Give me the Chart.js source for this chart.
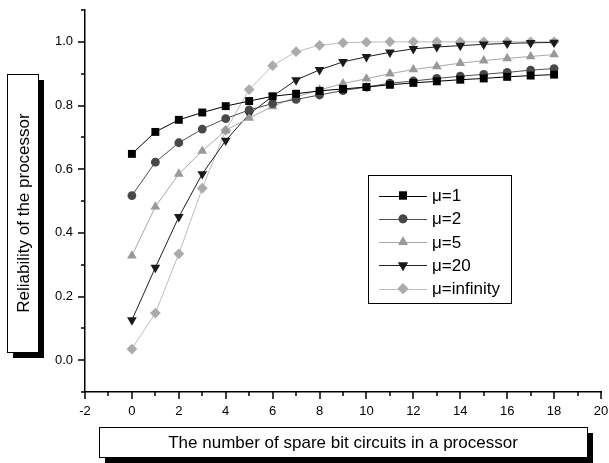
<!DOCTYPE html>
<html lang="en">

<head>
    <meta charset="UTF-8" />
    <title>Reliability of the processor</title>
    <style>
        * {
            margin: 0;
            padding: 0;
        }

        body {
            background: #ffffff;
        }

        .chartBox {
            width: 609px;
            height: 463px;
        }
    </style>
</head>

<body>
    <div class="chartBox">
        <canvas id="myChart"></canvas>
    </div>
    <script src="https://cdn.jsdelivr.net/npm/chart.js@4.4.1/dist/chart.umd.min.js"></script>
    <script>
        const FONT = "'Liberation Sans', Arial, Helvetica, sans-serif";

        // spare bit circuits
        const spares = [0, 1, 2, 3, 4, 5, 6, 7, 8, 9, 10, 11, 12, 13, 14, 15, 16, 17, 18];

        const seriesNames = ["μ=1", "μ=2", "μ=5", "μ=20", "μ=infinity"];

        const mu1 = [0.648, 0.717, 0.755, 0.778, 0.798, 0.814, 0.829, 0.837, 0.846, 0.852,
            0.858, 0.865, 0.871, 0.876, 0.881, 0.885, 0.890, 0.894, 0.897];
        const mu2 = [0.517, 0.622, 0.683, 0.726, 0.759, 0.786, 0.806, 0.819, 0.833, 0.847,
            0.858, 0.870, 0.877, 0.885, 0.892, 0.898, 0.904, 0.911, 0.916];
        const mu5 = [0.328, 0.482, 0.585, 0.657, 0.722, 0.761, 0.797, 0.827, 0.849, 0.869,
            0.884, 0.900, 0.913, 0.923, 0.933, 0.941, 0.948, 0.954, 0.960];
        const mu20 = [0.126, 0.291, 0.450, 0.585, 0.690, 0.773, 0.829, 0.880, 0.912, 0.937,
            0.953, 0.967, 0.978, 0.984, 0.988, 0.992, 0.995, 0.997, 0.998];
        const muInf = [0.035, 0.148, 0.334, 0.540, 0.722, 0.850, 0.925, 0.969, 0.989, 0.997,
            0.999, 1.0, 1.0, 1.0, 1.0, 1.0, 1.0, 1.0, 1.0];

        const xMin = -2, xMax = 20;
        const yMin = -0.1, yMax = 1.1;

        const xTitle = "The number of spare bit circuits in a processor";
        const yTitle = "Reliability of the processor";

        function pts(values) {
            return values.map((v, i) => ({ x: spares[i], y: v }));
        }

        const styles = [
            { line: "#000000", fill: "#000000", shape: "rect", rot: 0, r: 5.6 },
            { line: "#505050", fill: "#484848", shape: "circle", rot: 0, r: 4.4 },
            { line: "#a8a8a8", fill: "#999999", shape: "triangle", rot: 0, r: 5.6 },
            { line: "#1e1e1e", fill: "#1a1a1a", shape: "triangle", rot: 180, r: 5.6 },
            { line: "#bdbdbd", fill: "#ababab", shape: "rectRot", rot: 0, r: 5.4 },
        ];

        const allValues = [mu1, mu2, mu5, mu20, muInf];

        const datasets = allValues.map((vals, i) => ({
            label: seriesNames[i],
            data: pts(vals),
            borderColor: styles[i].line,
            backgroundColor: styles[i].fill,
            borderWidth: 1,
            pointStyle: styles[i].shape,
            pointRotation: styles[i].rot,
            pointRadius: styles[i].r,
            pointBorderWidth: 0,
            pointBackgroundColor: styles[i].fill,
            fill: false,
            tension: 0,
        }));

        function shadowBox(ctx, x, y, w, h) {
            ctx.fillStyle = "#000";
            ctx.fillRect(x + 6, y + 6, w, h);
            ctx.fillStyle = "#fff";
            ctx.fillRect(x, y, w, h);
            ctx.strokeStyle = "#000";
            ctx.lineWidth = 1;
            ctx.strokeRect(x + 0.5, y + 0.5, w, h);
        }

        // tick marks (long on labelled values), titles and legend drawn by hand
        const decorations = {
            id: "decorations",
            afterDraw(chart) {
                const ctx = chart.ctx;
                const xs = chart.scales.x;
                const ys = chart.scales.y;
                const bottom = Math.round(chart.chartArea.bottom);
                const left = Math.round(chart.chartArea.left);
                ctx.save();

                ctx.fillStyle = "#000000";
                for (let v = xMin; v <= xMax; v++) {
                    const px = Math.round(xs.getPixelForValue(v));
                    const len = v % 2 === 0 ? 7 : 4;
                    ctx.fillRect(px - 0.75, bottom, 1.5, len);
                }
                for (let k = -1; k <= 11; k++) {
                    const py = Math.round(ys.getPixelForValue(k / 10));
                    const len = k % 2 === 0 ? 7 : 4;
                    ctx.fillRect(left - len, py - 0.75, len, 1.5);
                }

                // axis title boxes
                ctx.font = "17px " + FONT;
                ctx.textAlign = "center";
                ctx.textBaseline = "middle";

                shadowBox(ctx, 7, 74, 31, 278);
                ctx.fillStyle = "#000";
                ctx.save();
                ctx.translate(23, 213);
                ctx.rotate(-Math.PI / 2);
                ctx.fillText(yTitle, 0, 1);
                ctx.restore();

                shadowBox(ctx, 99, 427, 488, 30);
                ctx.fillStyle = "#000";
                ctx.fillText(xTitle, 343, 443);

                // legend
                const lx = Math.round(xs.getPixelForValue(10.08));
                const ly = Math.round(ys.getPixelForValue(0.583));
                ctx.fillStyle = "#fff";
                ctx.fillRect(lx, ly, 143, 128);
                ctx.strokeStyle = "#000";
                ctx.strokeRect(lx + 0.5, ly + 0.5, 143, 128);
                ctx.font = "17px " + FONT;
                ctx.textAlign = "left";
                chart.data.datasets.forEach((ds, i) => {
                    const cy = ly + 20.5 + i * 23.3;
                    ctx.strokeStyle = ds.borderColor;
                    ctx.beginPath();
                    ctx.moveTo(lx + 11, Math.round(cy) + 0.5);
                    ctx.lineTo(lx + 59, Math.round(cy) + 0.5);
                    ctx.stroke();
                    ctx.fillStyle = ds.pointBackgroundColor;
                    Chart.helpers.drawPoint(ctx, {
                        pointStyle: ds.pointStyle,
                        rotation: ds.pointRotation,
                        radius: ds.pointRadius,
                        borderWidth: 0,
                    }, lx + 35, cy);
                    ctx.fill();
                    ctx.fillStyle = "#000";
                    ctx.fillText(ds.label, lx + 64, cy + 1);
                });

                ctx.restore();
            },
        };

        const options = {
            responsive: true,
            maintainAspectRatio: false,
            animation: false,
            layout: {
                padding: { top: 10, right: 8, left: 0, bottom: 0 },
            },
            scales: {
                x: {
                    type: "linear",
                    min: xMin,
                    max: xMax,
                    grid: { display: false, drawTicks: false },
                    border: { display: true, color: "#000", width: 1.5 },
                    ticks: {
                        stepSize: 1,
                        autoSkip: false,
                        maxRotation: 0,
                        padding: 12,
                        color: "#000",
                        font: { family: FONT, size: 13 },
                        callback: v => (Math.round(v) % 2 === 0 ? String(Math.round(v)) : ""),
                    },
                    afterFit: s => {
                        s.height = 71;
                        s.paddingLeft = 0;
                        s.paddingRight = 0;
                    },
                },
                y: {
                    type: "linear",
                    min: yMin,
                    max: yMax,
                    grid: { display: false, drawTicks: false },
                    border: { display: true, color: "#000", width: 1.5 },
                    ticks: {
                        stepSize: 0.1,
                        autoSkip: false,
                        padding: 12,
                        color: "#000",
                        font: { family: FONT, size: 13 },
                        callback: function (v) {
                            const k = Math.round(v * 10);
                            return (k % 2 === 0 && k >= 0 && k <= 10) ? (k / 10).toFixed(1) : "";
                        },
                    },
                    afterFit: s => {
                        s.width = 85;
                        s.paddingTop = 0;
                        s.paddingBottom = 0;
                    },
                },
            },
            plugins: {
                legend: { display: false },
                tooltip: { enabled: false },
            },
        };

        const config = {
            type: "line",
            data: { datasets: datasets },
            options: options,
            plugins: [decorations],
        };

        const ctx = document.getElementById("myChart").getContext("2d");
        const myChart = new Chart(ctx, config);
    </script>
</body>

</html>
